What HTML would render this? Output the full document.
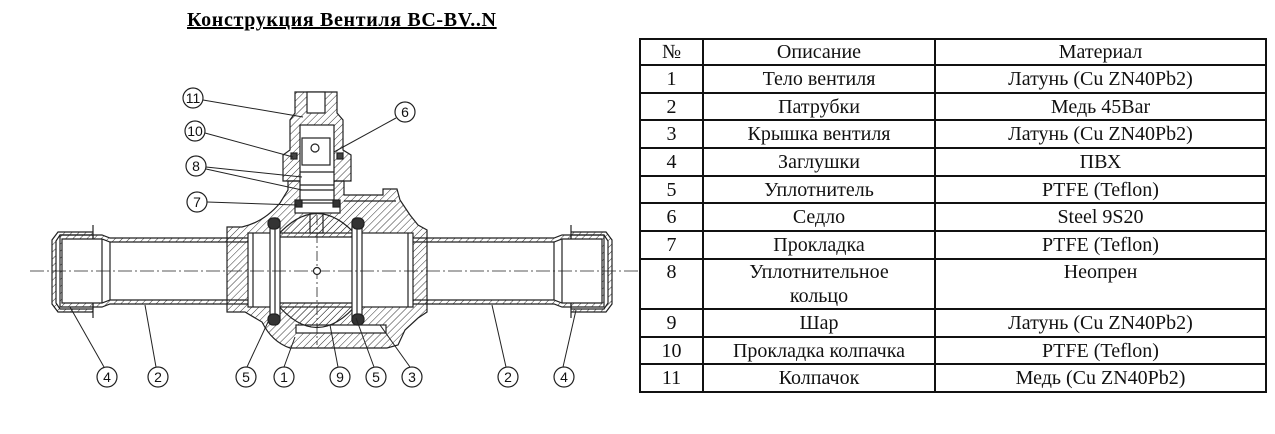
<!DOCTYPE html>
<html><head><meta charset="utf-8"><style>
html,body{margin:0;padding:0;background:#fff;}
body{width:1275px;height:434px;position:relative;overflow:hidden;font-family:"Liberation Serif",serif;}
.title{position:absolute;left:187px;top:9px;font-family:"Liberation Serif",serif;font-size:20px;font-weight:bold;text-decoration:underline;color:#000;letter-spacing:0.65px;}
table{position:absolute;left:639px;top:38px;border-collapse:collapse;font-family:"Liberation Serif",serif;font-size:20px;color:#111;}
td{font-family:"Liberation Serif",serif;border:2px solid #111;text-align:center;padding:0;line-height:24px;vertical-align:middle;}
svg{position:absolute;left:0;top:0;}
</style></head><body>
<div class="title">Конструкция Вентиля BC-BV..N</div>
<svg width="640" height="434" viewBox="0 0 640 434">
<defs>
<pattern id="h" width="5" height="5" patternUnits="userSpaceOnUse" patternTransform="rotate(45)">
<line x1="0" y1="0" x2="0" y2="5" stroke="#333" stroke-width="1"/></pattern>
</defs>
<g stroke="#222" stroke-width="1.2" fill="none">
<path d="M93 232 L58 232 L52 240 L52 304 L58 312 L93 312" fill="url(#h)"/>
<path d="M93 235 L60 235 L56 241 L56 303 L60 309 L93 309 Z" fill="#fff"/>
<line x1="93" y1="225" x2="93" y2="318"/>
<path d="M60 235 L102 235 L110 238 L255 238 L255 304 L110 304 L102 307 L60 307 Z" fill="url(#h)"/>
<path d="M62 239 L102 239 L110 242 L255 242 L255 300 L110 300 L102 303 L62 303 Z" fill="#fff"/>
<line x1="102" y1="239" x2="102" y2="303"/>
<line x1="110" y1="242" x2="110" y2="300"/>
<path d="M571 232 L606 232 L612 240 L612 304 L606 312 L571 312" fill="url(#h)"/>
<path d="M571 235 L604 235 L608 241 L608 303 L604 309 L571 309 Z" fill="#fff"/>
<line x1="571" y1="225" x2="571" y2="318"/>
<path d="M604 235 L562 235 L554 238 L410 238 L410 304 L554 304 L562 307 L604 307 Z" fill="url(#h)"/>
<path d="M602 239 L562 239 L554 242 L410 242 L410 300 L554 300 L562 303 L602 303 Z" fill="#fff"/>
<line x1="562" y1="239" x2="562" y2="303"/>
<line x1="554" y1="242" x2="554" y2="300"/>
<path d="M227 237 L227 227 L242 227 Q264 222 280 203 L288 190 L288 181 L344 181 L344 195 L383 195 L383 189 L397 189 L400 200 L410 215 L418 225 L427 230 L427 237 L427 305 L427 312 L418 318 L405 330 L398 345 L387 348 L290 348 Q272 342 262 322 L245 312 L227 312 L227 305 Z" fill="url(#h)"/>
<rect x="248" y="233" width="165" height="74" fill="#fff"/>
<line x1="253" y1="233" x2="253" y2="307"/><line x1="408" y1="233" x2="408" y2="307"/>
<rect x="296" y="325" width="90" height="8" fill="#fff"/>
<line x1="344" y1="201" x2="396" y2="201"/>
<path d="M276 237 Q317 190 358 237 Z" fill="url(#h)"/>
<path d="M276 303 Q317 352 358 303 Z" fill="url(#h)"/>
<rect x="310" y="213" width="13" height="20" fill="url(#h)"/>
<rect x="270" y="218" width="10" height="106" rx="4" fill="#fff"/>
<rect x="352" y="218" width="10" height="106" rx="4" fill="#fff"/>
<line x1="275" y1="224" x2="275" y2="318"/><line x1="357" y1="224" x2="357" y2="318"/>
<rect x="268" y="218" width="12" height="11" rx="5" fill="#333"/>
<rect x="268" y="314" width="12" height="11" rx="5" fill="#333"/>
<rect x="352" y="218" width="12" height="11" rx="5" fill="#333"/>
<rect x="352" y="314" width="12" height="11" rx="5" fill="#333"/>
<path d="M295 92 L337 92 L337 113 L343 120 L343 150 L351 155 L351 181 L283 181 L283 155 L290 150 L290 120 L295 113 Z" fill="url(#h)"/>
<rect x="307" y="92" width="18" height="21" fill="#fff"/>
<rect x="300" y="125" width="34" height="82" fill="#fff"/>
<rect x="302" y="138" width="28" height="27" fill="#fff"/>
<circle cx="315" cy="148" r="4"/>
<line x1="300" y1="172" x2="334" y2="172"/><line x1="300" y1="185" x2="334" y2="185"/>
<line x1="300" y1="190" x2="334" y2="190"/><line x1="300" y1="200" x2="334" y2="200"/>
<rect x="295" y="203" width="45" height="10" fill="#fff"/>
<rect x="291" y="153" width="6" height="6" fill="#444"/><rect x="337" y="153" width="6" height="6" fill="#444"/>
<rect x="295" y="200" width="7" height="7" fill="#333"/><rect x="333" y="200" width="7" height="7" fill="#333"/>
<line x1="30" y1="271" x2="640" y2="271" stroke-width="0.8" stroke-dasharray="14,3,2,3"/>
<line x1="317" y1="215" x2="317" y2="345" stroke-width="0.8" stroke-dasharray="10,3,2,3"/>
<circle cx="317" cy="271" r="3.5" fill="#fff"/>
<g stroke-width="1">
<path d="M203 100 L303 117"/><path d="M205 133 L293 157"/>
<path d="M206 167 L302 177"/><path d="M206 169 L302 190"/>
<path d="M207 202 L297 205"/><path d="M396 118 L334 152"/>
<path d="M104 367 L70 307"/><path d="M156 367 L145 305"/>
<path d="M247 367 L268 322"/><path d="M284 367 L295 337"/>
<path d="M338 367 L330 325"/><path d="M374 367 L356 318"/>
<path d="M410 367 L380 325"/><path d="M506 367 L492 305"/>
<path d="M563 367 L576 310"/>
</g>
</g>
<g font-family="Liberation Sans, sans-serif" font-size="14" text-anchor="middle" fill="#111">
<g stroke="#222" stroke-width="1.2" fill="#fff">
<circle cx="193" cy="98" r="10"/><circle cx="195" cy="131" r="10"/><circle cx="196" cy="166" r="10"/>
<circle cx="197" cy="202" r="10"/><circle cx="405" cy="112" r="10"/>
<circle cx="107" cy="377" r="10"/><circle cx="158" cy="377" r="10"/><circle cx="246" cy="377" r="10"/>
<circle cx="284" cy="377" r="10"/><circle cx="340" cy="377" r="10"/><circle cx="376" cy="377" r="10"/>
<circle cx="412" cy="377" r="10"/><circle cx="508" cy="377" r="10"/><circle cx="564" cy="377" r="10"/>
</g>
<text x="193" y="103">11</text><text x="195" y="136">10</text><text x="196" y="171">8</text>
<text x="197" y="207">7</text><text x="405" y="117">6</text>
<text x="107" y="382">4</text><text x="158" y="382">2</text><text x="246" y="382">5</text>
<text x="284" y="382">1</text><text x="340" y="382">9</text><text x="376" y="382">5</text>
<text x="412" y="382">3</text><text x="508" y="382">2</text><text x="564" y="382">4</text>
</g>
</svg>
<table>
<tr style="height:26px"><td style="width:61px">№</td><td style="width:230px">Описание</td><td style="width:329px">Материал</td></tr>
<tr style="height:28px"><td>1</td><td>Тело вентиля</td><td>Латунь (Cu ZN40Pb2)</td></tr>
<tr style="height:27px"><td>2</td><td>Патрубки</td><td>Медь 45Bar</td></tr>
<tr style="height:28px"><td>3</td><td>Крышка вентиля</td><td>Латунь (Cu ZN40Pb2)</td></tr>
<tr style="height:28px"><td>4</td><td>Заглушки</td><td>ПВХ</td></tr>
<tr style="height:27px"><td>5</td><td>Уплотнитель</td><td>PTFE (Teflon)</td></tr>
<tr style="height:28px"><td>6</td><td>Седло</td><td>Steel 9S20</td></tr>
<tr style="height:28px"><td>7</td><td>Прокладка</td><td>PTFE (Teflon)</td></tr>
<tr style="height:50px"><td style="vertical-align:top">8</td><td>Уплотнительное<br>кольцо</td><td style="vertical-align:top">Неопрен</td></tr>
<tr style="height:28px"><td>9</td><td>Шар</td><td>Латунь (Cu ZN40Pb2)</td></tr>
<tr style="height:27px"><td>10</td><td>Прокладка колпачка</td><td>PTFE (Teflon)</td></tr>
<tr style="height:28px"><td>11</td><td>Колпачок</td><td>Медь (Cu ZN40Pb2)</td></tr>
</table>
</body></html>
